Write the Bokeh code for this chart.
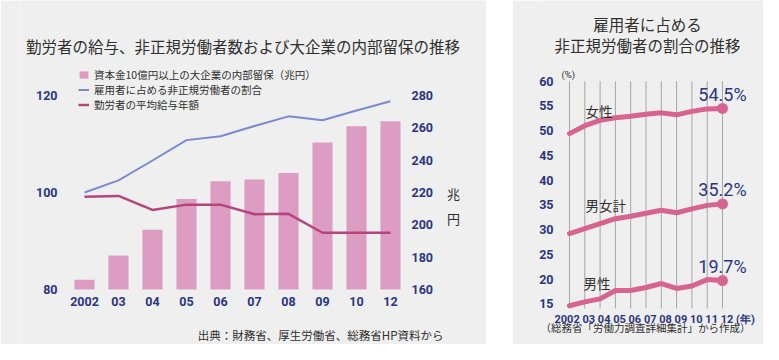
from bokeh.plotting import figure
from bokeh.models import (Range1d, LinearAxis, Legend, LegendItem, Label,
                          FixedTicker, Spacer)
from bokeh.layouts import row
from bokeh.embed import file_html
from bokeh.resources import INLINE

# ---------------- data ----------------
years_left = ["2002", "03", "04", "05", "06", "07", "08", "09", "10", "12"]
reserves = [166, 181, 197, 216, 227, 228, 232, 251, 261, 264]          # 兆円 (right axis)
nonregular_index = [100, 102.5, 106.6, 110.8, 111.6, 113.7, 115.7, 114.9, 116.9, 118.8]
salary_index = [99.1, 99.3, 96.4, 97.5, 97.5, 95.5, 95.6, 91.7, 91.7, 91.7]
left_ticks = [80, 100, 120]
right_ticks = [160, 180, 200, 220, 240, 260, 280]

years_right = [2002, 2003, 2004, 2005, 2006, 2007, 2008, 2009, 2010, 2011, 2012]
year_labels = ["2002", "03", "04", "05", "06", "07", "08", "09", "10", "11", "12"]
female = [49.4, 51.0, 52.1, 52.6, 52.9, 53.3, 53.6, 53.2, 53.9, 54.4, 54.5]
total = [29.2, 30.2, 31.2, 32.2, 32.7, 33.3, 33.9, 33.4, 34.2, 34.9, 35.2]
male = [14.6, 15.4, 16.0, 17.7, 17.7, 18.3, 19.1, 18.1, 18.6, 19.9, 19.7]
pct_ticks = [15, 20, 25, 30, 35, 40, 45, 50, 55, 60]

# ---------------- styles ----------------
BG = "#efefef"
NAVY = "#2b3580"
TXT = "#2f2f2f"
BAR = "#dd9cc1"
BLUE = "#7b8ad0"
MAGENTA = "#b5457d"
PINK = "#d6648f"
GRID = "#a6a6a6"
JP = "Noto Sans CJK JP"
NUM = "Roboto"


def style_axis(ax, size, standoff):
    ax.axis_line_color = None
    ax.major_tick_line_color = None
    ax.minor_tick_line_color = None
    ax.major_tick_out = 0
    ax.major_tick_in = 0
    ax.major_label_text_color = NAVY
    ax.major_label_text_font = NUM
    ax.major_label_text_font_style = "bold"
    ax.major_label_text_font_size = size
    ax.major_label_standoff = standoff


# ============ left chart: frame spans the whole figure area =============
W1, H = 486, 344
idx = list(range(len(years_left)))
# pixel layout (x of first/step between categories, y of the axis ends)
X0PX, XSTEP = 84, 34
Y80PX, Y120PX = 289, 95
FL1 = 20


def lx(px):
    return (px - X0PX) / XSTEP


def ly(py):
    return left_ticks[0] + (Y80PX - py) * (left_ticks[-1] - left_ticks[0]) / (Y80PX - Y120PX)


def ry(py):
    return right_ticks[0] + (Y80PX - py) * (right_ticks[-1] - right_ticks[0]) / (Y80PX - Y120PX)


p1 = figure(width=W1, height=H,
            x_range=Range1d(lx(FL1), lx(W1)), y_range=Range1d(ly(H), ly(0)),
            output_backend="svg", toolbar_location=None,
            min_border_left=FL1, min_border_right=0,
            min_border_top=0, min_border_bottom=0,
            background_fill_color=BG, border_fill_color=BG,
            outline_line_color=None)
p1.grid.visible = False
p1.extra_y_ranges = {"r": Range1d(ry(H), ry(0))}

p1.yaxis.ticker = FixedTicker(ticks=left_ticks)
style_axis(p1.yaxis[0], "12.5px", -(57 - FL1))
p1.xaxis.ticker = FixedTicker(ticks=idx)
p1.xaxis.major_label_overrides = {i: s for i, s in zip(idx, years_left)}
style_axis(p1.xaxis[0], "12.5px", -48)
rax = LinearAxis(y_range_name="r", ticker=FixedTicker(ticks=right_ticks))
style_axis(rax, "12.5px", -(W1 - 411))
p1.add_layout(rax, "right")

bars = p1.vbar(x=idx, top=reserves, bottom=right_ticks[0], width=0.59,
               y_range_name="r", fill_color=BAR, line_color=None)
l_blue = p1.line(idx, nonregular_index, line_color=BLUE, line_width=2)
l_mag = p1.line(idx, salary_index, line_color=MAGENTA, line_width=2.5)

legend = Legend(items=[
    LegendItem(label="資本金10億円以上の大企業の内部留保（兆円）", renderers=[bars]),
    LegendItem(label="雇用者に占める非正規労働者の割合", renderers=[l_blue]),
    LegendItem(label="勤労者の平均給与年額", renderers=[l_mag]),
], location=(78 - FL1, H - 112), padding=0, margin=0, spacing=0,
    glyph_width=11, glyph_height=9, label_standoff=5, label_height=10,
    label_text_font=JP, label_text_font_size="10.5px", label_text_color=TXT,
    background_fill_alpha=0, border_line_color=None)
p1.add_layout(legend)


def label1(px, py, text, size, align="center", font=JP, color=TXT):
    p1.add_layout(Label(x=lx(px), y=ly(py), text=text, text_font=font,
                        text_font_size=size, text_color=color,
                        text_align=align, text_baseline="middle"))


label1(242.5, 45, "勤労者の給与、非正規労働者数および大企業の内部留保の推移", "15.5px")
label1(453, 193, "兆", "13px")
label1(453, 218, "円", "13px")
label1(443, 334, "出典：財務省、厚生労働省、総務省HP資料から", "11.5px", align="right")

# ============ right chart =============
W2 = 251
OX2 = 512            # page x where the right figure starts
FL2 = 541 - OX2      # frame left inside the figure
G0PX, GSTEP = 569 - OX2, 15.3     # x of 2002 and px per year
Y60PX, YUNIT = 80.7, 4.947         # y of 60% and px per percentage point


def rx2(px):
    return years_right[0] + (px - OX2 - G0PX) / GSTEP


def ry2(py):
    return pct_ticks[-1] - (py - Y60PX) / YUNIT


p2 = figure(width=W2, height=H,
            x_range=Range1d(rx2(OX2 + FL2), rx2(OX2 + W2)), y_range=Range1d(ry2(H), ry2(0)),
            x_axis_location=None,
            output_backend="svg", toolbar_location=None,
            min_border_left=FL2, min_border_right=0,
            min_border_top=0, min_border_bottom=0,
            background_fill_color=BG, border_fill_color=BG,
            outline_line_color=None)
p2.grid.visible = False
p2.yaxis.ticker = FixedTicker(ticks=pct_ticks)
style_axis(p2.yaxis[0], "12.5px", -(553 - 541))

# vertical year grid lines, from just below the lowest tick up to the top tick
p2.segment(x0=years_right, x1=years_right,
           y0=[pct_ticks[0] - 0.95] * len(years_right), y1=[pct_ticks[-1]] * len(years_right),
           line_color=GRID, line_width=1)

for series in (female, total, male):
    p2.line(years_right, series, line_color=PINK, line_width=5,
            line_cap="round", line_join="round")
    p2.scatter([years_right[-1]], [series[-1]], size=11, fill_color=PINK, line_color=None)
    p2.add_layout(Label(x=years_right[-1], y=series[-1], y_offset=14,
                        text=f"{series[-1]}%", text_font=NUM, text_font_size="18px",
                        text_color=NAVY, text_align="center", text_baseline="middle"))


def label2(px, py, text, size, align="center", font=JP, color=TXT, style="normal"):
    p2.add_layout(Label(x=rx2(px), y=ry2(py), text=text, text_font=font,
                        text_font_size=size, text_color=color, text_font_style=style,
                        text_align=align, text_baseline="middle"))


label2(585, 110, "女性", "13.5px", align="left")
label2(585, 204, "男女計", "13.5px", align="left")
label2(583, 282, "男性", "13.5px", align="left")
label2(647, 23, "雇用者に占める", "15.5px")
label2(647, 44.5, "非正規労働者の割合の推移", "15.5px")
label2(561, 73.5, "(%)", "9.5px", align="left", font=NUM)
label2(554, 318.5, " ".join(year_labels) + " (年)", "11px", align="left",
       font=NUM, color=NAVY, style="bold")
label2(645, 327, "（総務省「労働力調査詳細集計」から作成）", "10.5px")

layout = row(p1, Spacer(width=26, height=H), p2)
open("out.html", "w").write(file_html(layout, INLINE))
